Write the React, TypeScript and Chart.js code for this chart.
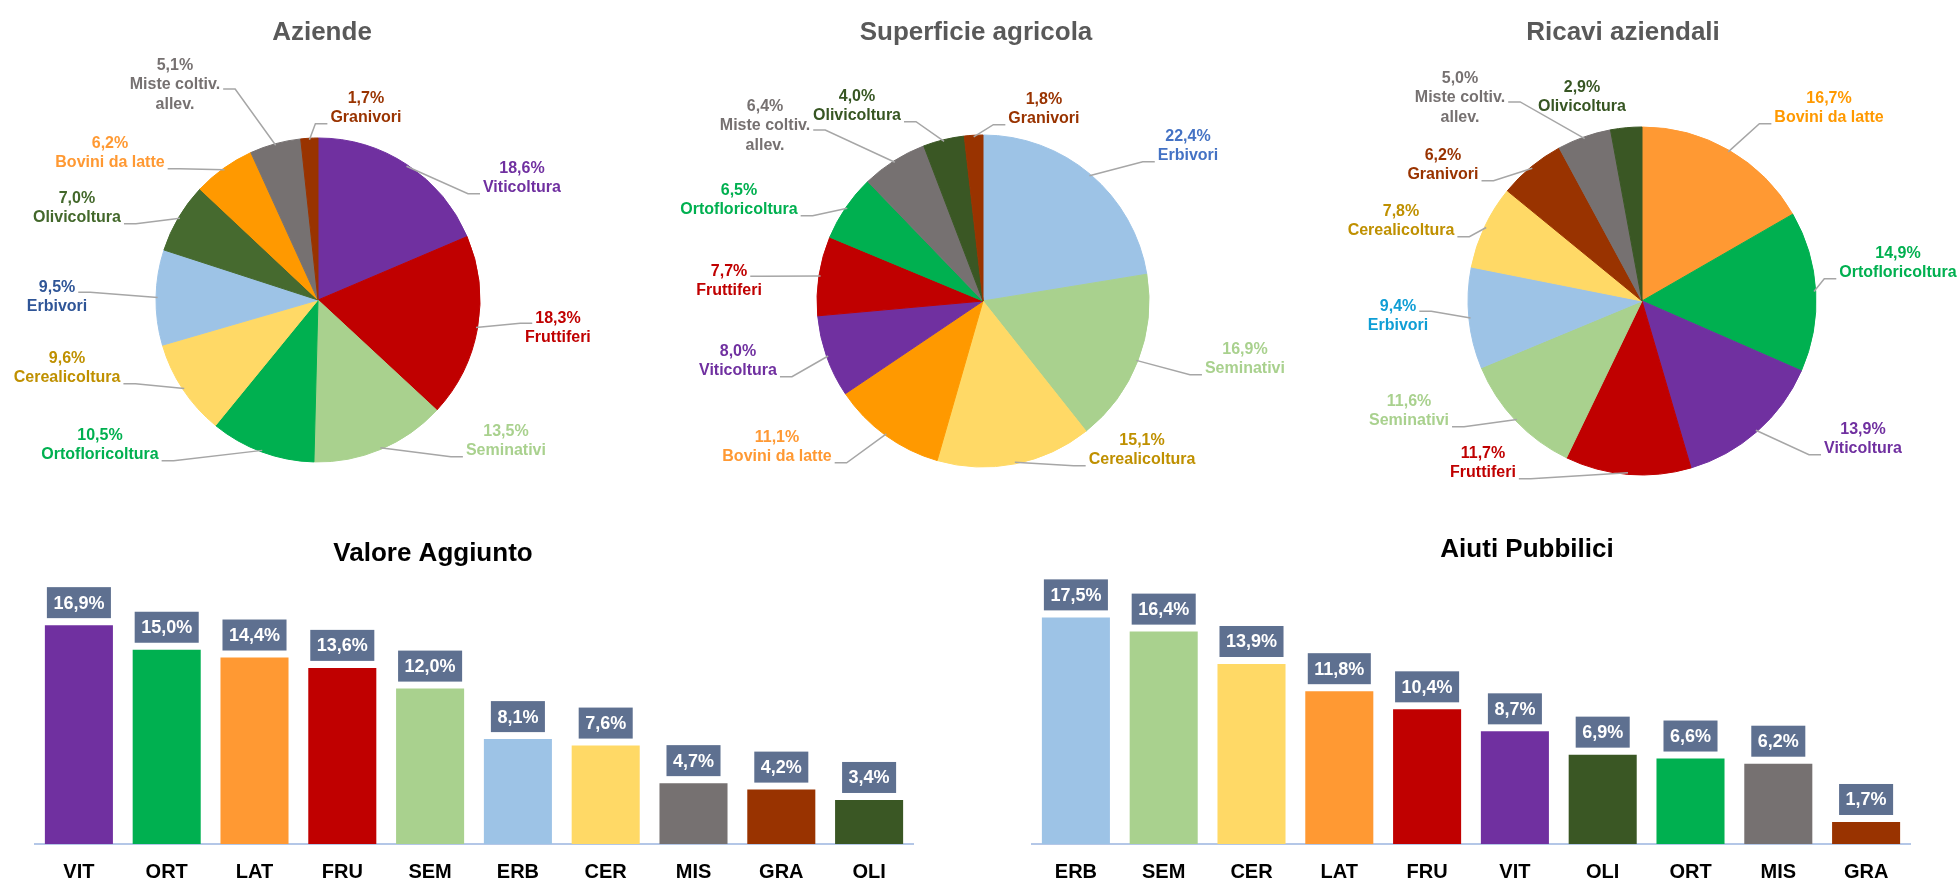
import React, { useEffect, useRef } from 'react';
import { Chart, registerables } from 'chart.js';

Chart.register(...registerables);

const FONT = '"Liberation Sans", Arial, Helvetica, sans-serif';

// ---------- DATA ----------
const AZIENDE_CATEGORIES = ['Viticoltura', 'Fruttiferi', 'Seminativi', 'Ortofloricoltura', 'Cerealicoltura', 'Erbivori', 'Olivicoltura', 'Bovini da latte', 'Miste coltiv.\nallev.', 'Granivori'];
const AZIENDE_VALUES = [18.6, 18.3, 13.5, 10.5, 9.6, 9.5, 7.0, 6.2, 5.1, 1.7];

const SUPERFICIE_CATEGORIES = ['Erbivori', 'Seminativi', 'Cerealicoltura', 'Bovini da latte', 'Viticoltura', 'Fruttiferi', 'Ortofloricoltura', 'Miste coltiv.\nallev.', 'Olivicoltura', 'Granivori'];
const SUPERFICIE_VALUES = [22.4, 16.9, 15.1, 11.1, 8.0, 7.7, 6.5, 6.4, 4.0, 1.8];

const RICAVI_CATEGORIES = ['Bovini da latte', 'Ortofloricoltura', 'Viticoltura', 'Fruttiferi', 'Seminativi', 'Erbivori', 'Cerealicoltura', 'Granivori', 'Miste coltiv.\nallev.', 'Olivicoltura'];
const RICAVI_VALUES = [16.7, 14.9, 13.9, 11.7, 11.6, 9.4, 7.8, 6.2, 5.0, 2.9];

const VA_CATEGORIES = ['VIT', 'ORT', 'LAT', 'FRU', 'SEM', 'ERB', 'CER', 'MIS', 'GRA', 'OLI'];
const VA_VALUES = [16.9, 15.0, 14.4, 13.6, 12.0, 8.1, 7.6, 4.7, 4.2, 3.4];

const AIUTI_CATEGORIES = ['ERB', 'SEM', 'CER', 'LAT', 'FRU', 'VIT', 'OLI', 'ORT', 'MIS', 'GRA'];
const AIUTI_VALUES = [17.5, 16.4, 13.9, 11.8, 10.4, 8.7, 6.9, 6.6, 6.2, 1.7];

const TITLES = ['Aziende', 'Superficie agricola', 'Ricavi aziendali', 'Valore Aggiunto', 'Aiuti Pubbilici'];

// ---------- STYLES ----------
const BASE_FILL: Record<string, string> = {
  'Viticoltura': '#7030A0',
  'Fruttiferi': '#C00000',
  'Seminativi': '#A9D18E',
  'Ortofloricoltura': '#00B050',
  'Cerealicoltura': '#FFD966',
  'Erbivori': '#9DC3E6',
  'Olivicoltura': '#3A5724',
  'Bovini da latte': '#FF9900',
  'Miste coltiv.\nallev.': '#767171',
  'Granivori': '#993300',
};
const BASE_TEXT: Record<string, string> = {
  'Viticoltura': '#7030A0',
  'Fruttiferi': '#C00000',
  'Seminativi': '#A9D18E',
  'Ortofloricoltura': '#00B050',
  'Cerealicoltura': '#BF9000',
  'Erbivori': '#2F5597',
  'Olivicoltura': '#375623',
  'Bovini da latte': '#FF9933',
  'Miste coltiv.\nallev.': '#767171',
  'Granivori': '#993300',
};
const PIE1_FILL = { ...BASE_FILL, 'Olivicoltura': '#466A2F' };
const PIE1_TEXT = { ...BASE_TEXT, 'Olivicoltura': '#43682B' };
const PIE2_FILL = { ...BASE_FILL };
const PIE2_TEXT = { ...BASE_TEXT, 'Erbivori': '#4472C4' };
const PIE3_FILL = { ...BASE_FILL, 'Bovini da latte': '#FF9933' };
const PIE3_TEXT = { ...BASE_TEXT, 'Erbivori': '#0F9ED5', 'Bovini da latte': '#FF9900' };

const BAR_FILL: Record<string, string> = {
  VIT: '#7030A0', ORT: '#00B050', LAT: '#FF9933', FRU: '#C00000', SEM: '#A9D18E',
  ERB: '#9DC3E6', CER: '#FFD966', MIS: '#767171', GRA: '#993300', OLI: '#3A5724',
};
const BOX_COLOR = '#5E7090';
const LEADER_COLOR = '#A6A6A6';
const AXIS_COLOR = '#B4C7E7';
const PIE_TITLE_COLOR = '#595959';

// label placement (block centre relative to pie centre, in radius units) + leader attach line
// attach: b = last line, t = first line, m = middle line, n = no leader
const PIE1_LABEL_LAYOUT: [number, number, string][] = [
  [1.259, -0.753, 'b'], [1.481, 0.173, 't'], [1.160, 0.870, 'b'], [-1.346, 0.895, 'b'], [-1.549, 0.420, 'b'],
  [-1.611, -0.019, 't'], [-1.488, -0.568, 'b'], [-1.284, -0.907, 'b'], [-0.883, -1.327, 'm'], [0.296, -1.185, 'b'],
];
const PIE2_LABEL_LAYOUT: [number, number, string][] = [
  [1.235, -0.934, 'b'], [1.578, 0.349, 'b'], [0.958, 0.898, 'b'], [-1.241, 0.880, 'b'], [-1.476, 0.361, 'b'],
  [-1.530, -0.120, 't'], [-1.470, -0.608, 'b'], [-1.313, -1.054, 'm'], [-0.759, -1.175, 'b'], [0.367, -1.157, 'b'],
];
const PIE3_LABEL_LAYOUT: [number, number, string][] = [
  [1.075, -1.109, 'b'], [1.471, -0.218, 'b'], [1.270, 0.793, 'b'], [-0.914, 0.931, 'b'], [-1.339, 0.632, 'b'],
  [-1.402, 0.086, 't'], [-1.385, -0.460, 'b'], [-1.144, -0.782, 'b'], [-1.046, -1.167, 'm'], [-0.345, -1.172, 'n'],
];

const LINE_H = 19.5;

const fmt = (v: number) => v.toFixed(1).replace('.', ',') + '%';

// ---------- PLUGINS ----------
function titlePlugin(text: string, x: number, y: number, color: string) {
  return {
    id: 'drawnTitle',
    afterDraw(chart: any) {
      const ctx = chart.ctx;
      ctx.save();
      ctx.font = `bold 26px ${FONT}`;
      ctx.fillStyle = color;
      ctx.textAlign = 'center';
      ctx.textBaseline = 'alphabetic';
      ctx.fillText(text, x, y);
      ctx.restore();
    },
  };
}

function pieLabelsPlugin(layout: [number, number, string][], textColors: string[]) {
  return {
    id: 'pieLabels',
    afterDatasetsDraw(chart: any) {
      const ctx = chart.ctx;
      const meta = chart.getDatasetMeta(0);
      const labels = chart.data.labels as string[];
      const values = chart.data.datasets[0].data as number[];
      ctx.save();
      ctx.font = `bold 16px ${FONT}`;
      meta.data.forEach((el: any, i: number) => {
        const { x, y, startAngle, endAngle, outerRadius } = el.getProps(['x', 'y', 'startAngle', 'endAngle', 'outerRadius'], true);
        const mid = (startAngle + endAngle) / 2;
        const ax = x + Math.cos(mid) * outerRadius * 0.99;
        const ay = y + Math.sin(mid) * outerRadius * 0.99;
        const [ox, oy, mode] = layout[i];
        const cx = x + ox * outerRadius;
        const cy = y + oy * outerRadius;
        const lines = [fmt(values[i]), ...labels[i].split('\n')];
        const n = lines.length;
        const centers = lines.map((_, k) => cy + (k - (n - 1) / 2) * LINE_H);
        if (mode !== 'n') {
          const k = mode === 't' ? 0 : mode === 'm' ? 1 : n - 1;
          const ly = centers[k] + (mode === 't' ? 5 : mode === 'm' ? 4 : 6);
          const w = ctx.measureText(lines[k]).width;
          const onLeft = cx < ax;
          const attachX = onLeft ? cx + w / 2 + 3 : cx - w / 2 - 3;
          const elbowX = onLeft ? attachX + 12 : attachX - 12;
          ctx.strokeStyle = LEADER_COLOR;
          ctx.lineWidth = 1.5;
          ctx.beginPath();
          ctx.moveTo(ax, ay);
          ctx.lineTo(elbowX, ly);
          ctx.lineTo(attachX, ly);
          ctx.stroke();
        }
        ctx.fillStyle = textColors[i];
        ctx.textAlign = 'center';
        ctx.textBaseline = 'middle';
        lines.forEach((t, k) => ctx.fillText(t, cx, centers[k]));
      });
      ctx.restore();
    },
  };
}

const barBoxesPlugin = {
  id: 'barBoxes',
  afterDatasetsDraw(chart: any) {
    const ctx = chart.ctx;
    const meta = chart.getDatasetMeta(0);
    const values = chart.data.datasets[0].data as number[];
    ctx.save();
    ctx.font = `bold 18px ${FONT}`;
    ctx.textAlign = 'center';
    ctx.textBaseline = 'middle';
    meta.data.forEach((bar: any, i: number) => {
      const t = fmt(values[i]);
      const w = ctx.measureText(t).width + 13;
      const h = 31;
      const bottom = bar.y - 7;
      ctx.fillStyle = BOX_COLOR;
      ctx.fillRect(bar.x - w / 2, bottom - h, w, h);
      ctx.fillStyle = '#FFFFFF';
      ctx.fillText(t, bar.x, bottom - h / 2 + 1);
    });
    ctx.restore();
  },
};

// ---------- CONFIG BUILDERS ----------
function pieConfig(
  categories: string[], values: number[], fillMap: Record<string, string>, textMap: Record<string, string>,
  layout: [number, number, string][], radius: number, padding: any, title: string, titleX: number,
) {
  const fills = categories.map((c) => fillMap[c]);
  const texts = categories.map((c) => textMap[c]);
  return {
    type: 'pie',
    data: {
      labels: categories,
      datasets: [{ data: values, backgroundColor: fills, borderColor: fills, borderWidth: 1, hoverOffset: 0 }],
    },
    options: {
      responsive: false,
      animation: false,
      devicePixelRatio: 1,
      events: [],
      radius,
      layout: { padding },
      plugins: { legend: { display: false }, tooltip: { enabled: false }, title: { display: false } },
    },
    plugins: [pieLabelsPlugin(layout, texts), titlePlugin(title, titleX, 39.5, PIE_TITLE_COLOR)],
  };
}

function barConfig(categories: string[], values: number[], padding: any, title: string, titleX: number, titleY: number) {
  const fills = categories.map((c) => BAR_FILL[c]);
  return {
    type: 'bar',
    data: {
      labels: categories,
      datasets: [{ data: values, backgroundColor: fills, borderWidth: 0, categoryPercentage: 1, barPercentage: 0.775 }],
    },
    options: {
      responsive: false,
      animation: false,
      devicePixelRatio: 1,
      events: [],
      layout: { padding },
      plugins: { legend: { display: false }, tooltip: { enabled: false }, title: { display: false } },
      scales: {
        x: {
          z: 1,
          grid: { display: false, drawTicks: false },
          border: { display: true, color: AXIS_COLOR, width: 2 },
          ticks: { color: '#000000', font: { family: FONT, size: 20, weight: 'bold' }, padding: 16 },
          afterFit: (scale: any) => { scale.height = 36; },
        },
        y: { display: false, min: 0, max: 20 },
      },
    },
    plugins: [barBoxesPlugin, titlePlugin(title, titleX, titleY, '#000000')],
  };
}

// ---------- COMPONENTS ----------
function ChartBox({ left, top, width, height, make }: { left: number; top: number; width: number; height: number; make: () => any }) {
  const ref = useRef<HTMLCanvasElement>(null);
  useEffect(() => {
    const chart = new Chart(ref.current as HTMLCanvasElement, make());
    return () => chart.destroy();
  }, []);
  return (
    <canvas
      ref={ref}
      width={width}
      height={height}
      style={{ position: 'absolute', left, top, width, height, display: 'block' }}
    />
  );
}

export default function App() {
  useEffect(() => {
    document.body.style.margin = '0';
  }, []);
  return (
    <div style={{ position: 'absolute', left: 0, top: 0, width: 1959, height: 880, background: '#FFFFFF', overflow: 'hidden' }}>
      <ChartBox left={0} top={0} width={653} height={520}
        make={() => pieConfig(AZIENDE_CATEGORIES, AZIENDE_VALUES, PIE1_FILL, PIE1_TEXT, PIE1_LABEL_LAYOUT, 162,
          { left: 156, right: 173, top: 138, bottom: 58 }, TITLES[0], 322)} />
      <ChartBox left={653} top={0} width={653} height={520}
        make={() => pieConfig(SUPERFICIE_CATEGORIES, SUPERFICIE_VALUES, PIE2_FILL, PIE2_TEXT, PIE2_LABEL_LAYOUT, 166,
          { left: 164, right: 157, top: 135, bottom: 53 }, TITLES[1], 323)} />
      <ChartBox left={1306} top={0} width={653} height={520}
        make={() => pieConfig(RICAVI_CATEGORIES, RICAVI_VALUES, PIE3_FILL, PIE3_TEXT, PIE3_LABEL_LAYOUT, 174,
          { left: 162, right: 143, top: 127, bottom: 45 }, TITLES[2], 317)} />
      <ChartBox left={0} top={520} width={980} height={360}
        make={() => barConfig(VA_CATEGORIES, VA_VALUES, { left: 35, right: 67, top: 65, bottom: 0 }, TITLES[3], 433, 40.5)} />
      <ChartBox left={980} top={520} width={979} height={360}
        make={() => barConfig(AIUTI_CATEGORIES, AIUTI_VALUES, { left: 52, right: 49, top: 65, bottom: 0 }, TITLES[4], 547, 36.5)} />
    </div>
  );
}
